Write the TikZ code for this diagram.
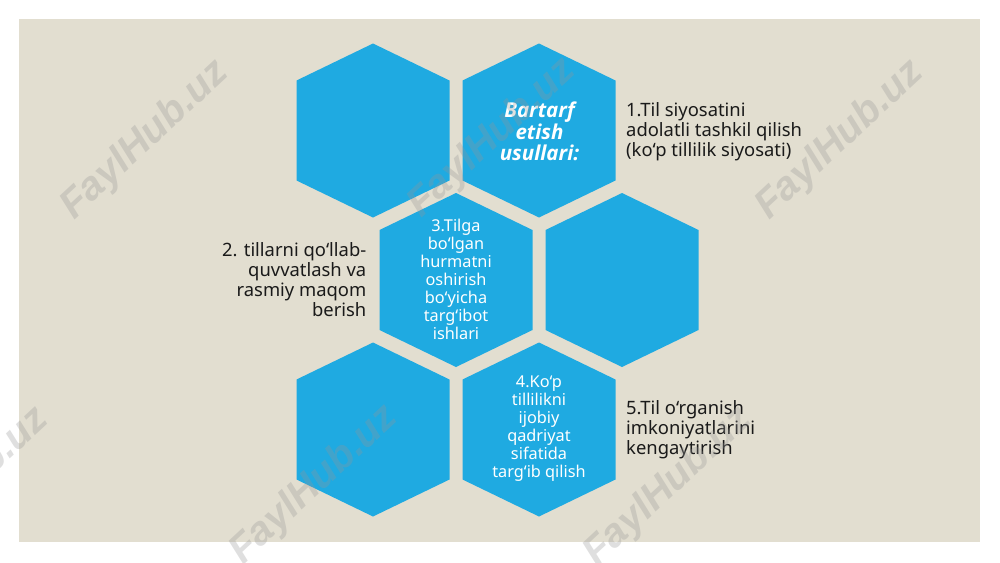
\documentclass[tikz,border=0pt]{standalone}
\usepackage{fontspec}
\setmainfont{Noto Sans}
\newfontfamily\titlefont{Open Sans}
\newfontfamily\wmfont{Liberation Sans}
\definecolor{hexblue}{RGB}{31,170,225}
\definecolor{panel}{RGB}{226,222,208}
\definecolor{ink}{RGB}{26,26,26}
\definecolor{wmark}{RGB}{150,150,150}
\begin{document}
\begin{tikzpicture}[x=1pt,y=-1pt,
  hexfill/.style={fill=hexblue},
  hextext/.style={text=white,align=center,font=\fontsize{16.3}{18}\selectfont,inner sep=0pt},
  titletext/.style={text=white,align=center,font=\titlefont\fontsize{20.5}{21.7}\selectfont\bfseries\itshape,inner sep=0pt},
  sidetext/.style={text=ink,font=\fontsize{18.4}{20}\selectfont,inner sep=0pt},
  watermark/.style={text=wmark,opacity=0.3,font=\fontsize{40}{44}\selectfont\wmfont\bfseries\itshape,rotate=43}]
\useasboundingbox (0,0) rectangle (1000,562);
\fill[white] (0,0) rectangle (1000,562);
\fill[panel] (19,19) rectangle (980,542);
% hexagon centres
\coordinate (A) at (373,130.5);
\coordinate (B) at (539,130.5);
\coordinate (C) at (456,280);
\coordinate (D) at (622,280);
\coordinate (E) at (373,429.5);
\coordinate (F) at (539,429.5);
\foreach \h in {A,B,C,D,E,F}{
  \fill[hexfill,shift={(\h)}] (0,-87) -- (76.5,-50) -- (76.5,50) -- (0,87) -- (-76.5,50) -- (-76.5,-50) -- cycle;
}
\node[titletext] (title) at (539.5,131.5) {Bartarf\\etish\\usullari:};
\node[hextext] (t3) at (456,279.5) {3.Tilga\\bo‘lgan\\hurmatni\\oshirish\\bo‘yicha\\targ‘ibot\\ishlari};
\node[hextext] (t4) at (539,428.5) {4.Ko‘p\\tillilikni\\ijobiy\\qadriyat\\sifatida\\targ‘ib qilish};
\node[sidetext,align=left,anchor=west] (t1) at (626,131.5) {1.Til siyosatini\\adolatli tashkil qilish\\(ko‘p tillilik siyosati)};
\node[sidetext,align=right,anchor=east] (t2) at (366.5,279.5) {2. tillarni qo‘llab-\\quvvatlash va\\rasmiy maqom\\berish};
\node[sidetext,align=left,anchor=west] (t5) at (626,430) {5.Til o‘rganish\\imkoniyatlarini\\kengaytirish};
% watermarks
\node[watermark] (w1) at (145,140) {FaylHub.uz};
\node[watermark] (w2) at (492,138) {FaylHub.uz};
\node[watermark] (w3) at (840,140) {FaylHub.uz};
\node[watermark] (w4) at (-35,487) {FaylHub.uz};
\node[watermark] (w5) at (314,485) {FaylHub.uz};
\node[watermark] (w6) at (668,487) {FaylHub.uz};
\end{tikzpicture}
\end{document}
